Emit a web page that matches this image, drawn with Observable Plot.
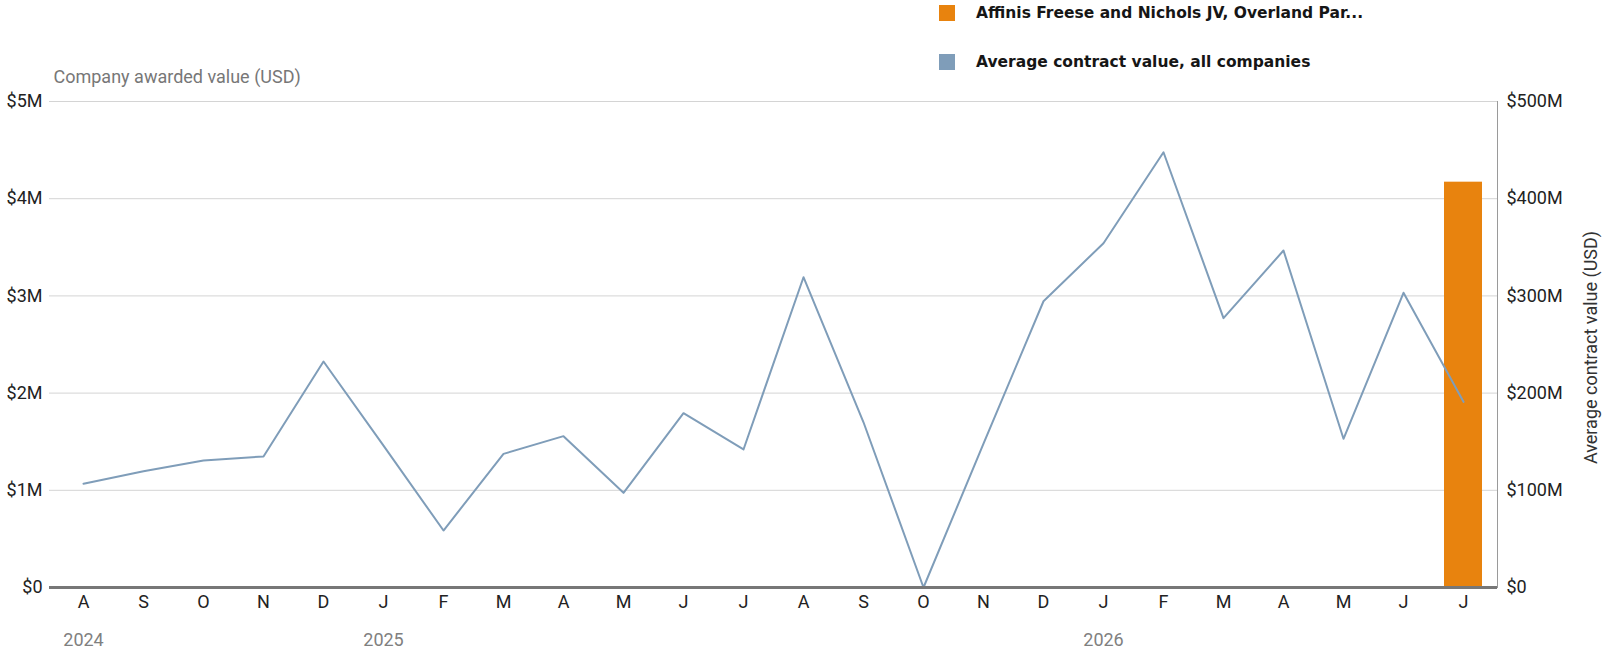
<!DOCTYPE html>
<html><head><meta charset="utf-8">
<script src="https://cdn.jsdelivr.net/npm/d3@7"></script>
<script src="https://cdn.jsdelivr.net/npm/@observablehq/plot@0.6"></script>
<style>
body{margin:0;background:#fff;}
#wrap{position:relative;width:1607px;height:656px;font-family:Roboto,"Liberation Sans",sans-serif;}
#legend{position:absolute;left:939px;top:0;}
.item{position:absolute;left:0;display:flex;align-items:center;white-space:nowrap;font-family:"DejaVu Sans",sans-serif;font-weight:bold;font-size:15.5px;color:#161616;}
.sw{width:16px;height:16px;margin-right:21px;flex:none;}
#chart{position:absolute;left:0;top:0;}
</style></head><body>
<div id="wrap"><div id="chart"></div><div id="legend"></div></div>
<script>
// months (Aug 2024 .. Jul 2026)
const months = ["2024-08","2024-09","2024-10","2024-11","2024-12","2025-01","2025-02","2025-03","2025-04","2025-05","2025-06","2025-07","2025-08","2025-09","2025-10","2025-11","2025-12","2026-01","2026-02","2026-03","2026-04","2026-05","2026-06","2026-07"];
const monthLetters = ["A","S","O","N","D","J","F","M","A","M","J","J","A","S","O","N","D","J","F","M","A","M","J","J"];
const yearLabels = {"2024-08":"2024","2025-01":"2025","2026-01":"2026"};
// Average contract value, all companies (USD millions, right axis)
const avgContractM = [106.7,119.7,130.7,134.8,232.5,146,58.6,137.5,155.7,97.4,179.3,142.0,319.2,170,0,148,294.5,354.2,447.8,277.1,346.7,153,303.2,191];
// Company awarded value (USD millions, left axis)
const companyAwardedM = [null,null,null,null,null,null,null,null,null,null,null,null,null,null,null,null,null,null,null,null,null,null,null,4.17];
const leftTicksM = [0,1,2,3,4,5];
const rightTicksM = [0,100,200,300,400,500];
const seriesNames = ["Affinis Freese and Nichols JV, Overland Par...","Average contract value, all companies"];
const seriesColors = ["#E8830E","#7F9DB9"];

const rows = months.map((m,i)=>({month:m, letter:monthLetters[i], avg:avgContractM[i]*1e6, awarded: companyAwardedM[i]==null?null:companyAwardedM[i]*1e6}));
const RATIO = 100; // right axis / left axis

const chart = Plot.plot({
  width:1607, height:656,
  marginLeft:49, marginRight:110, marginTop:101, marginBottom:69,
  style:{fontFamily:'Roboto,"Liberation Sans",sans-serif', fontSize:"18px", color:"#222", background:"white"},
  x:{type:"band", domain:months, paddingInner:0.36, paddingOuter:0.24, align:0.5},
  y:{domain:[0,5e6]},
  marks:[
    Plot.gridY(leftTicksM.map(v=>v*1e6), {stroke:"#d4d4d4", strokeOpacity:1}),
    Plot.frame({anchor:"right", stroke:"#9a9a9a"}),
    Plot.axisY(leftTicksM.map(v=>v*1e6), {anchor:"left", tickSize:0, tickPadding:7, label:null,
      tickFormat: v => v===0 ? "$0" : "$"+(v/1e6)+"M"}),
    Plot.axisY(rightTicksM.map(v=>v*1e6/RATIO), {anchor:"right", tickSize:0, tickPadding:9, label:null,
      tickFormat: v => { const m = Math.round(v*RATIO/1e6); return m===0 ? "$0" : "$"+m+"M"; }}),
    Plot.barY(rows.filter(d=>d.awarded!=null), {x:"month", y:"awarded", fill:seriesColors[0]}),
    Plot.lineY(rows, {x:"month", y:d=>d.avg/RATIO, stroke:seriesColors[1], strokeWidth:2}),
    Plot.ruleY([0], {stroke:"#777", strokeWidth:3}),
    Plot.axisX({tickSize:0, tickPadding:8, label:null, fill:"#222", tickFormat:(d)=>monthLetters[months.indexOf(d)]}),
    Plot.axisX({tickSize:0, tickPadding:46, label:null, fill:"#808080", tickFormat:(d)=>yearLabels[d]||""}),
    Plot.text(["Company awarded value (USD)"], {frameAnchor:"top-left", textAnchor:"start", dx:4, dy:-31, fill:"#777", fontSize:18}),
    Plot.text(["Average contract value (USD)"], {frameAnchor:"right", textAnchor:"middle", rotate:-90, dx:94, dy:3, fill:"#333", fontSize:18})
  ]
});
document.getElementById("chart").appendChild(chart);

const legend = document.getElementById("legend");
seriesNames.forEach((name,i)=>{
  const it = document.createElement("div");
  it.className = "item";
  it.style.top = (i===0 ? 4 : 53) + "px";
  const sw = document.createElement("span"); sw.className="sw"; sw.style.background = seriesColors[i];
  const tx = document.createElement("span"); tx.textContent = name;
  it.appendChild(sw); it.appendChild(tx); legend.appendChild(it);
});
</script>
</body></html>
